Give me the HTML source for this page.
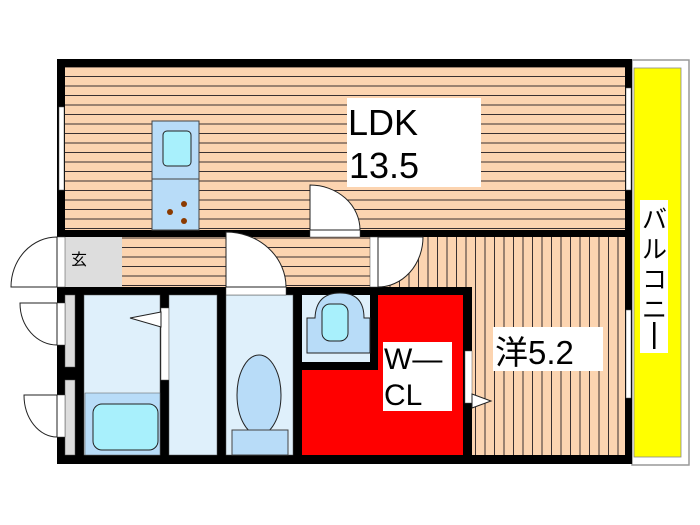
<!DOCTYPE html>
<html><head><style>body{margin:0;background:#fff}svg{display:block}</style></head><body>
<svg width="700" height="525" viewBox="0 0 700 525" xmlns="http://www.w3.org/2000/svg" font-family="Liberation Sans, Noto Sans CJK JP, sans-serif">
<defs>
<pattern id="h" width="10" height="9.5" patternUnits="userSpaceOnUse"><rect width="10" height="9.5" fill="#fcd4b0"/><line x1="0" y1="0.5" x2="10" y2="0.5" stroke="#3a3030" stroke-width="1"/></pattern>
<pattern id="v" width="9.5" height="10" patternUnits="userSpaceOnUse"><rect width="9.5" height="10" fill="#fcd4b0"/><line x1="0.5" y1="0" x2="0.5" y2="10" stroke="#3a3030" stroke-width="1"/></pattern>
</defs>
<rect x="632" y="60" width="57" height="405" fill="#fff" stroke="#999" stroke-width="1.5"/>
<rect x="634" y="68" width="47" height="389" fill="#ffff00" stroke="#888" stroke-width="0.8"/>
<rect x="640" y="200" width="28" height="153" fill="#fff"/>
<text font-size="25" fill="#000"><tspan x="642" y="228">バ</tspan><tspan x="642" y="258">ル</tspan><tspan x="642" y="288">コ</tspan><tspan x="642" y="318">ニ</tspan></text>
<rect x="653" y="322" width="2.5" height="27" fill="#000"/>
<rect x="57" y="59" width="575" height="405" fill="#000"/>
<rect x="65" y="67" width="560" height="163" fill="url(#h)"/>
<rect x="65" y="237" width="305" height="50" fill="url(#h)"/>
<rect x="65" y="237" width="57" height="50" fill="#ddd"/>
<text x="71" y="265" font-size="16">玄</text>
<rect x="370" y="237" width="255" height="50" fill="url(#v)"/>
<rect x="472" y="287" width="153" height="168" fill="url(#v)"/>
<rect x="65" y="295" width="10" height="72" fill="#ddd" stroke="#555" stroke-width="0.5"/>
<rect x="65" y="380" width="10" height="75" fill="#ddd" stroke="#555" stroke-width="0.5"/>
<rect x="84" y="295" width="76" height="160" fill="#dff0fb" stroke="#555" stroke-width="0.5"/>
<rect x="85" y="393" width="75" height="62" fill="#b8dcf8" stroke="#555" stroke-width="0.5"/>
<rect x="93" y="404" width="65" height="46" rx="9" fill="#a8f0fc" stroke="#222"/>
<rect x="161" y="308" width="8" height="72" fill="#fff" stroke="#555" stroke-width="0.5"/>
<polygon points="161,312 130,318 161,327" fill="#fff" stroke="#222"/>
<rect x="169" y="295" width="48" height="160" fill="#dff0fb" stroke="#555" stroke-width="0.5"/>
<rect x="226" y="295" width="67" height="160" fill="#dff0fb" stroke="#555" stroke-width="0.5"/>
<ellipse cx="259" cy="395" rx="22" ry="40" fill="#b8dcf8" stroke="#222"/>
<rect x="232" y="430" width="56" height="25" fill="#b8dcf8" stroke="#444"/>
<rect x="302" y="295" width="68" height="67" fill="#dff0fb"/>
<path d="M307 318 L315 318 Q316 293 340 293 Q364 293 364 318 L370 318 L370 353 L307 353 Z" fill="#b8dcf8" stroke="#222"/>
<rect x="322" y="304" width="26" height="37" rx="8" fill="#a8f0fc" stroke="#222"/>
<rect x="378" y="295" width="85" height="160" fill="#ff0000"/>
<rect x="302" y="370" width="161" height="85" fill="#ff0000"/>
<rect x="383" y="342" width="69" height="69" fill="#fff"/>
<text font-size="30" fill="#000"><tspan x="384" y="369">W—</tspan><tspan x="384" y="405">CL</tspan></text>
<rect x="465" y="351" width="7" height="52" fill="#fff" stroke="#555" stroke-width="0.5"/>
<polygon points="472,394 491,401 472,408" fill="#fff" stroke="#222"/>
<rect x="493" y="327" width="110" height="44" fill="#fff"/>
<text x="495" y="364" font-size="33" fill="#000">洋5.2</text>
<rect x="347" y="98" width="134" height="89" fill="#fff"/>
<text font-size="36" fill="#000"><tspan x="348" y="135">LDK</tspan><tspan x="349" y="178">13.5</tspan></text>
<rect x="152" y="121" width="47" height="58" fill="#b8dcf8" stroke="#444"/>
<rect x="163" y="131" width="28" height="35" rx="4" fill="#a8f0fc" stroke="#222"/>
<rect x="152" y="179" width="47" height="51" fill="#b8dcf8" stroke="#444"/>
<circle cx="184" cy="204" r="3" fill="#8b3a00"/><circle cx="170" cy="212" r="3" fill="#8b3a00"/><circle cx="184" cy="221" r="3" fill="#8b3a00"/>
<rect x="310" y="230" width="50" height="7" fill="#fff" stroke="#444" stroke-width="0.5"/>
<path d="M310 230 L310 185 A50 45 0 0 1 360 230 Z" fill="#fff" stroke="#222"/>
<rect x="226" y="287" width="60" height="8" fill="#fff" stroke="#444" stroke-width="0.5"/>
<path d="M226 287 L226 232 A60 55 0 0 1 286 287 Z" fill="#fff" stroke="#222"/>
<rect x="370" y="237" width="8" height="50" fill="#fff" stroke="#444" stroke-width="0.5"/>
<path d="M378 237 L423 237 A45 50 0 0 1 378 287 Z" fill="#fff" stroke="#222"/>
<rect x="57" y="237" width="8" height="50" fill="#fff" stroke="#444" stroke-width="0.5"/>
<path d="M57 237 A46 50 0 0 0 11 287 L57 287 Z" fill="#fff" stroke="#222"/>
<rect x="57" y="303" width="8" height="42" fill="#fff" stroke="#444" stroke-width="0.5"/>
<path d="M57 303 L20 303 A37 42 0 0 0 57 345 Z" fill="#fff" stroke="#222"/>
<rect x="57" y="395" width="8" height="42" fill="#fff" stroke="#444" stroke-width="0.5"/>
<path d="M57 395 L24 395 A33 42 0 0 0 57 437 Z" fill="#fff" stroke="#222"/>
<rect x="59" y="107" width="5" height="83" fill="#fff" stroke="#555" stroke-width="0.5"/>
<rect x="626" y="88" width="5" height="102" fill="#fff" stroke="#555" stroke-width="0.5"/>
<rect x="626" y="310" width="5" height="88" fill="#fff" stroke="#555" stroke-width="0.5"/>
</svg>
</body></html>
